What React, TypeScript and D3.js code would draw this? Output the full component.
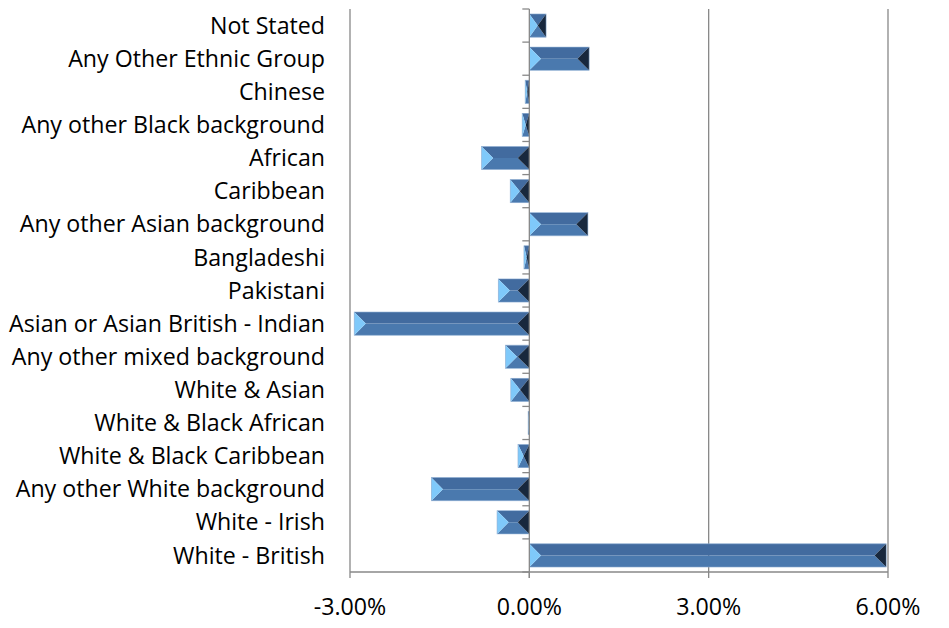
import React from "react";
import * as d3 from "d3";

const categories = [
  "Not Stated",
  "Any Other Ethnic Group",
  "Chinese",
  "Any other Black background",
  "African",
  "Caribbean",
  "Any other Asian background",
  "Bangladeshi",
  "Pakistani",
  "Asian or Asian British - Indian",
  "Any other mixed background",
  "White & Asian",
  "White & Black African",
  "White & Black Caribbean",
  "Any other White background",
  "White - Irish",
  "White - British",
];

// percentage-point change per group
const values = [
  0.28, 1.0, -0.07, -0.12, -0.8, -0.32, 0.98, -0.09, -0.52, -2.93, -0.4, -0.31,
  -0.02, -0.19, -1.64, -0.54, 5.97,
];

const xTicks = [-3, 0, 3, 6];

const W = 949;
const H = 628;
const plot = { left: 350, right: 888, top: 9, bottom: 572 };
const FONT = "'Open Sans', 'Liberation Sans', sans-serif";

export default function App() {
  const x = d3.scaleLinear().domain([-3, 6]).range([plot.left, plot.right]);
  const y = d3
    .scaleBand<string>()
    .domain(categories)
    .range([plot.top, plot.bottom])
    .paddingInner(0.3)
    .paddingOuter(0.15);

  const step = y.step();
  const x0 = x(0);
  const boundaries = d3.range(categories.length + 1).map((i) => plot.top + i * step);
  const axisColor = "#888888";

  return (
    <svg
      width={W}
      height={H}
      style={{ position: "absolute", left: 0, top: 0, background: "#fff" }}
      fontFamily={FONT}
    >
      {/* vertical gridlines */}
      {xTicks
        .filter((t) => t !== 0)
        .map((t) => (
          <line
            key={"g" + t}
            x1={x(t)}
            x2={x(t)}
            y1={plot.top}
            y2={plot.bottom}
            stroke={axisColor}
            strokeWidth={1.3}
          />
        ))}

      {/* bars with bevelled ends */}
      {categories.map((c, i) => {
        const v = values[i];
        const xa = Math.min(x(0), x(v));
        const xb = Math.max(x(0), x(v));
        const y0 = y(c)!;
        const h = y.bandwidth();
        const y1 = y0 + h;
        const ym = y0 + h / 2;
        const w = xb - xa;
        const b = Math.min(h / 2, w / 2);
        const pts = (p: [number, number][]) => p.map((d) => d.join(",")).join(" ");
        return (
          <g key={c}>
            <polygon
              points={pts([
                [xa, y0],
                [xb, y0],
                [xb - b, ym],
                [xa + b, ym],
              ])}
              fill="#426b9f"
            />
            <polygon
              points={pts([
                [xa, y1],
                [xb, y1],
                [xb - b, ym],
                [xa + b, ym],
              ])}
              fill="#4a79ae"
            />
            <polygon
              points={pts([
                [xa, y0],
                [xa + b, ym],
                [xa, y1],
              ])}
              fill="#7fc9fa"
            />
            <polygon
              points={pts([
                [xb, y0],
                [xb - b, ym],
                [xb, y1],
              ])}
              fill="#18283d"
            />
            <rect
              x={xa}
              y={y0}
              width={w}
              height={h}
              fill="none"
              stroke="#8eaed3"
              strokeWidth={0.6}
            />
          </g>
        );
      })}

      {/* zero axis with category ticks */}
      <line x1={x0} x2={x0} y1={plot.top} y2={plot.bottom + 6} stroke={axisColor} strokeWidth={1.3} />
      {boundaries.map((by, i) => (
        <line key={"t" + i} x1={x0 - 7} x2={x0} y1={by} y2={by} stroke={axisColor} strokeWidth={1.3} />
      ))}

      {/* bottom axis */}
      <line x1={plot.left} x2={plot.right} y1={plot.bottom} y2={plot.bottom} stroke={axisColor} strokeWidth={1.3} />
      {xTicks.map((t) => (
        <g key={"x" + t}>
          <line x1={x(t)} x2={x(t)} y1={plot.bottom} y2={plot.bottom + 6} stroke={axisColor} strokeWidth={1.3} />
          <text x={x(t)} y={615} textAnchor="middle" fontSize={23.2} fill="#000">
            {t.toFixed(2) + "%"}
          </text>
        </g>
      ))}

      {/* category labels */}
      {categories.map((c) => (
        <text
          key={"l" + c}
          x={325}
          y={y(c)! + y.bandwidth() / 2}
          dy="0.35em"
          textAnchor="end"
          fontSize={23.2}
          fill="#000"
        >
          {c}
        </text>
      ))}
    </svg>
  );
}
